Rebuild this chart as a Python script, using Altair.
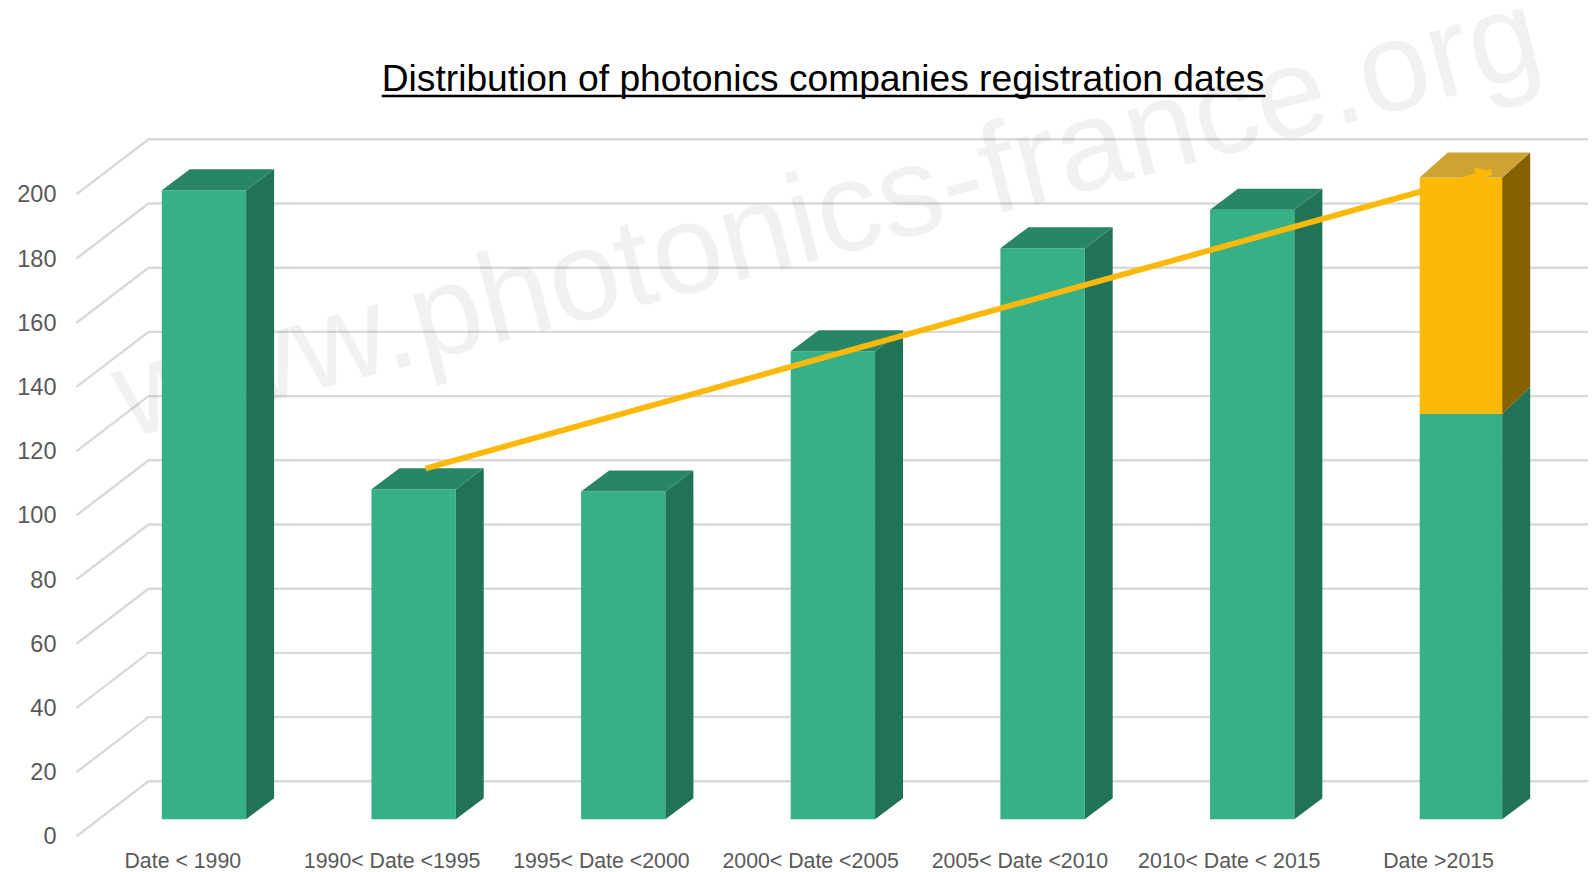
import altair as alt
import pandas as pd

categories = ["Date < 1990", "1990< Date <1995", "1995< Date <2000", "2000< Date <2005",
              "2005< Date <2010", "2010< Date < 2015", "Date >2015"]
green_values = [196, 102.8, 102.1, 145.8, 177.9, 189.9, 126.3]
orange_values = [0, 0, 0, 0, 0, 0, 73.6]
grid_ticks = list(range(0, 201, 20))
trend_idx = [1.258, 6.343]
trend_val = [109.3, 201.7]

W, H = 1580, 864
PX_PER_IDX = 209.65
PX_PER_VAL = 3.21
X0 = 153.8 / PX_PER_IDX      # plot-space position of idx 0
Y0 = 811.3 / PX_PER_VAL      # plot-space position of value 0
x_scale = alt.Scale(domain=[-X0, W / PX_PER_IDX - X0], nice=False, zero=False)
y_scale = alt.Scale(domain=[Y0 - H / PX_PER_VAL, Y0], nice=False, zero=False)

BAR_W = 84.3 / PX_PER_IDX
LAST_BAR_W = 82.5 / PX_PER_IDX
DX = 28 / PX_PER_IDX
DY = 21 / PX_PER_VAL
DY_GREEN_TOP_LAST = 27.2 / PX_PER_VAL
DY_ORANGE_TOP_LAST = 25 / PX_PER_VAL
LABEL_STEP = 0.9983
WALL_FRONT_X = (68.5 - 153.8) / PX_PER_IDX
WALL_BACK_X = (140.5 - 153.8) / PX_PER_IDX
WALL_FRONT_Y = -17 / PX_PER_VAL
WALL_BACK_Y = 38 / PX_PER_VAL
RIGHT = W / PX_PER_IDX - X0

GREEN = ("#36B086", "#217357", "#288566")
ORANGE = ("#FDB909", "#856102", "#CDA432")

front, side, top, grid = [], [], [], []
for i, (g, o) in enumerate(zip(green_values, orange_values)):
    l = i
    r = i + (LAST_BAR_W if o else BAR_W)
    g_top = DY_GREEN_TOP_LAST if o else DY
    front.append(dict(x=l, x2=r, y=0, y2=g, c=GREEN[0]))
    side += [dict(k=f"{i}g", x=r, y=0, y2=g, c=GREEN[1]),
             dict(k=f"{i}g", x=r + DX, y=DY, y2=g + g_top, c=GREEN[1])]
    dy_top = g_top
    if o:
        front.append(dict(x=l, x2=r, y=g, y2=g + o, c=ORANGE[0]))
        side += [dict(k=f"{i}o", x=r, y=g, y2=g + o, c=ORANGE[1]),
                 dict(k=f"{i}o", x=r + DX, y=g + g_top, y2=g + o + DY_ORANGE_TOP_LAST, c=ORANGE[1])]
        dy_top = DY_ORANGE_TOP_LAST
    total = g + o
    pal = ORANGE if o else GREEN
    key = str(i)
    top += [dict(k=key, x=l, y=total, y2=total, c=pal[2]),
            dict(k=key, x=l + DX, y=total, y2=total + dy_top, c=pal[2]),
            dict(k=key, x=r, y=total, y2=total + dy_top, c=pal[2]),
            dict(k=key, x=r + DX, y=total + dy_top, y2=total + dy_top, c=pal[2])]
for t in grid_ticks:
    grid += [dict(t=t, o=0, x=WALL_FRONT_X, y=t + WALL_FRONT_Y),
             dict(t=t, o=1, x=WALL_BACK_X, y=t + WALL_BACK_Y),
             dict(t=t, o=2, x=RIGHT, y=t + WALL_BACK_Y)]

X = alt.X("x:Q", scale=x_scale, title=None)
Y = alt.Y("y:Q", scale=y_scale, title=None)
label_js = "[" + ",".join('"%s"' % c for c in categories) + "][round(datum.value)]"

axes = alt.Chart(pd.DataFrame(grid)).mark_line(color="#d9d9d9", strokeWidth=2.4, clip=True).encode(
    x=alt.X("x:Q", scale=x_scale, title=None,
            axis=alt.Axis(values=[i * LABEL_STEP for i in range(7)], labelExpr=label_js,
                          grid=False, domain=False, ticks=False, labelLimit=400,
                          labelFontSize=21.3, labelFont="Liberation Sans", labelColor="#595959",
                          labelPadding=0, offset=-11, labelOffset=20.5, labelBaseline="middle",
                          labelAngle=0, labelOverlap=False, labelFlush=False, labelBound=False)),
    y=alt.Y("y:Q", scale=y_scale, title=None,
            axis=alt.Axis(values=grid_ticks, grid=False, domain=False, ticks=False,
                          labelFontSize=23.5, labelFont="Liberation Sans", labelColor="#595959",
                          labelPadding=0, offset=-48, labelOffset=17.6, labelOverlap=False,
                          labelFlush=False, labelBound=False)),
    detail="t:N", order="o:Q")

front_l = alt.Chart(pd.DataFrame(front)).mark_rect().encode(
    x=X, x2="x2:Q", y=Y, y2="y2:Q", color=alt.Color("c:N", scale=None))
side_l = alt.Chart(pd.DataFrame(side)).mark_area().encode(
    x=X, y=Y, y2="y2:Q", detail="k:N", color=alt.Color("c:N", scale=None))
top_l = alt.Chart(pd.DataFrame(top)).mark_area().encode(
    x=X, y=Y, y2="y2:Q", detail="k:N", color=alt.Color("c:N", scale=None))

trend = pd.DataFrame(dict(x=trend_idx, y=trend_val))
trend_l = alt.Chart(trend).mark_line(color="#FDB909", strokeWidth=5.8).encode(x=X, y=Y)
head_l = alt.Chart(trend.iloc[[1]]).mark_point(shape="triangle-right", filled=True, opacity=1,
                                               color="#FDB909", size=320, angle=345,
                                               xOffset=-8, yOffset=2).encode(x=X, y=Y)

wm = pd.DataFrame(dict(x=[3.222], y=[175.8], t=["www.photonics-france.org"]))
wm_l = alt.Chart(wm).mark_text(font="Liberation Sans", fontSize=127.5, angle=345.5, color="#000000", opacity=0.05,
                               align="center", baseline="alphabetic").encode(x=X, y=Y, text="t:N")

ul = pd.DataFrame(dict(x=[(381.7 - 161.8) / PX_PER_IDX], x2=[(1265.5 - 161.8) / PX_PER_IDX],
                       y=[(819.3 - 96) / PX_PER_VAL]))
ul_l = alt.Chart(ul).mark_rule(color="#000000", strokeWidth=2.4).encode(x=X, x2="x2:Q", y=Y)

chart = alt.layer(axes, wm_l, front_l, side_l, top_l, trend_l, head_l, ul_l).properties(
    width=W, height=H, padding=0, autosize=alt.AutoSizeParams(type="none"),
    title=alt.TitleParams("Distribution of photonics companies registration dates",
                          font="Liberation Sans", fontSize=37.2, fontWeight="normal", color="#000000",
                          anchor="start", dx=373.7, dy=73.7, offset=-82, baseline="alphabetic", frame="group"),
).configure_view(stroke=None)

chart.save("out.html", embed_options={"renderer": "svg", "actions": False})
